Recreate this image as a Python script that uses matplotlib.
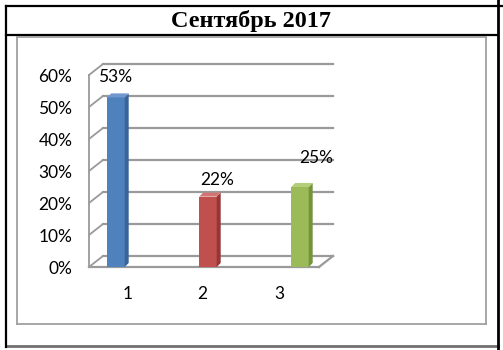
import matplotlib
matplotlib.use("Agg")
from matplotlib import pyplot as plt
from matplotlib.lines import Line2D
from matplotlib.patches import Polygon
from matplotlib.transforms import ScaledTranslation
from matplotlib.ticker import FuncFormatter

# data
categories = ["1", "2", "3"]
values = [0.53, 0.22, 0.25]
value_labels = ["53%", "22%", "25%"]
title = "Сентябрь 2017"

W, H = 503, 350
front = ["#4f81bd", "#c0504d", "#9bbb59"]
side = ["#3a6497", "#953735", "#76923c"]
top = ["#7097cf", "#d27572", "#b3cf7a"]
grid_c = "#9a9a9a"

fig = plt.figure(figsize=(W / 100, H / 100), dpi=100)


def fx(x):
    return x / W


def fy(y):
    return 1 - y / H


def hline(x0, x1, y, color="black", lw=1.6):
    fig.add_artist(Line2D([fx(x0), fx(x1)], [fy(y), fy(y)], color=color, lw=lw,
                          transform=fig.transFigure))


def vline(x, y0, y1, color="black", lw=1.6):
    fig.add_artist(Line2D([fx(x), fx(x)], [fy(y0), fy(y1)], color=color, lw=lw,
                          transform=fig.transFigure))


# table around the chart
hline(6, 503, 6)
hline(6, 498, 35)
hline(6, 498, 346, color="#707070", lw=2)
vline(6, 6, 347)
vline(497.5, 0, 350, lw=2)
fig.text(fx(251), fy(21), title, ha="center", va="center", fontsize=17.5,
         fontweight="bold", family="Liberation Serif")

# chart frame
hline(17, 486, 36.5, color="#a0a0a0", lw=1.3)
hline(17, 486, 323.5, color="#a0a0a0", lw=1.3)
vline(17, 36.5, 323.5, color="#a0a0a0", lw=1.3)
vline(486, 36.5, 323.5, color="#a0a0a0", lw=1.3)

# front plane of the 3d box
left, right, base, peak = 89, 319, 267, 75
ax = fig.add_axes([fx(left), fy(base), (right - left) / W, (base - peak) / H])
ax.set_xlim(-0.293, 2.207)
ax.set_ylim(0, 0.6)
ax.patch.set_alpha(0)
for s in ax.spines.values():
    s.set_visible(False)

xs = list(range(len(values)))
depth = ScaledTranslation(14 / 100, 11 / 100, fig.dpi_scale_trans)
back = ax.transData + depth
inv = ax.transData.inverted()
x0, x1 = ax.get_xlim()
yt = [0, 0.1, 0.2, 0.3, 0.4, 0.5, 0.6]


def to_back(x, y):
    # same data point seen on the back plane, in front-plane data units
    return inv.transform(back.transform((x, y)))


# back wall gridlines and left wall
for y in yt:
    ax.plot([x0, x1], [y, y], color=grid_c, lw=1.6, transform=back, zorder=1,
            clip_on=False)
    bx, by = to_back(x0, y)
    ax.plot([x0, bx], [y, by], color=grid_c, lw=1.3, zorder=1, clip_on=False)
ax.plot([x0, x0], [0, 0.6], color=grid_c, lw=1.3, zorder=1, clip_on=False)
# floor
ax.plot([x0, x1], [0, 0], color=grid_c, lw=1.6, zorder=1, clip_on=False)
bx, by = to_back(x1, 0)
ax.plot([x1, bx], [0, by], color=grid_c, lw=1.6, zorder=1, clip_on=False)

# bars with a little depth
bw = 0.19
ddx = 4 * (x1 - x0) / (right - left)
ddy = 4 * 0.6 / (base - peak)
ax.bar(xs, values, width=bw, color=front, zorder=3, clip_on=False)
for x, v, sc, tc in zip(xs, values, side, top):
    r = x + bw / 2
    l = x - bw / 2
    ax.add_patch(Polygon([(r, 0), (r + ddx, ddy), (r + ddx, v + ddy), (r, v)],
                         closed=True, color=sc, zorder=3, lw=0, clip_on=False))
    ax.add_patch(Polygon([(l, v), (l + ddx, v + ddy), (r + ddx, v + ddy), (r, v)],
                         closed=True, color=tc, zorder=3, lw=0, clip_on=False))

# value labels (offsets in px)
lab_off = [(-1, 20), (9, 17), (16, 29)]
for x, v, t, (ox, oy) in zip(xs, values, value_labels, lab_off):
    ax.annotate(t, (x, v), xytext=(ox * 0.72, oy * 0.72), textcoords="offset points",
                ha="center", va="center", fontsize=12.5, family="Lato", zorder=5)

ax.set_yticks(yt)
ax.yaxis.set_major_formatter(FuncFormatter(lambda v, p: f"{v * 100:.0f}%"))
ax.set_xticks(xs)
ax.set_xticklabels(categories)
ax.tick_params(length=0, labelsize=12.5)
ax.tick_params(axis="y", pad=12)
ax.tick_params(axis="x", pad=14)
for lab in ax.get_xticklabels() + ax.get_yticklabels():
    lab.set_family("Lato")
tick_shift = [12, -6, -21]
for lab, d in zip(ax.get_xticklabels(), tick_shift):
    lab.set_transform(lab.get_transform() + ScaledTranslation(d / 100, 0, fig.dpi_scale_trans))

fig.savefig("out.png", dpi=100)
